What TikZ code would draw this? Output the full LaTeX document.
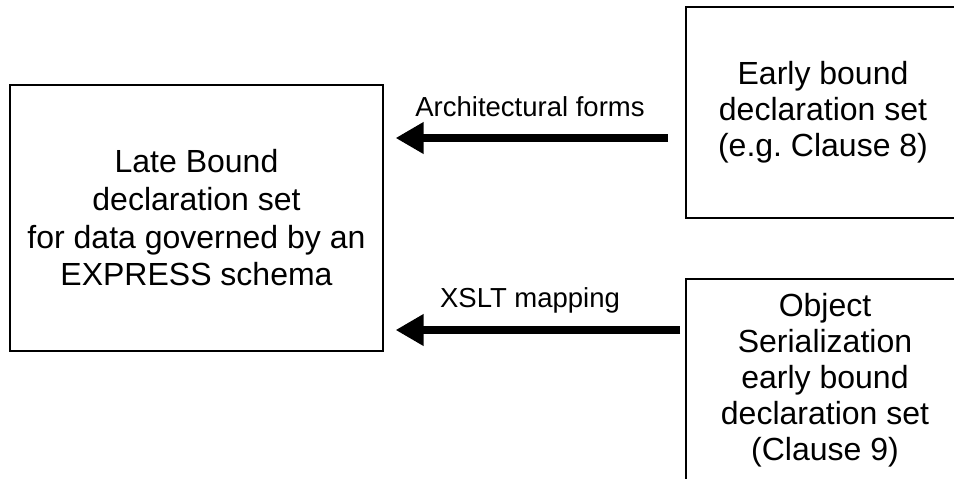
\documentclass[tikz,border=0pt]{standalone}
\usepackage{fontspec}
\setmainfont{Liberation Sans}
\usetikzlibrary{arrows.meta}
\frenchspacing
\begin{document}
\begin{tikzpicture}[x=1pt,y=-1pt,
  box/.style={draw=black, line width=1.2pt, inner sep=0pt, align=center},
  lbl/.style={font=\fontsize{27.5}{33}\selectfont, anchor=base, inner sep=0pt},
  bigarrow/.style={line width=7.5pt, -{Triangle[length=28pt,width=30pt]}}]
\useasboundingbox (0,0) rectangle (954,479);
\clip (0,0) rectangle (954,479);

% declaration set boxes
\node[box, minimum width=373pt, minimum height=266pt,
      font=\fontsize{32}{37.7}\selectfont] (late) at (196.5,218)
  {Late Bound\\declaration set\\for data governed by an\\EXPRESS schema};
\node[box, minimum width=274pt, minimum height=211pt,
      font=\fontsize{32}{36}\selectfont] (early) at (823,112.5)
  {Early bound\\declaration set\\(e.g. Clause 8)};
\node[box, minimum width=278pt, minimum height=202pt,
      font=\fontsize{32}{36}\selectfont] (objser) at (825,380)
  {Object\\Serialization\\early bound\\declaration set\\(Clause 9)};

% mapping arrows
\coordinate (a1) at (668,138);
\coordinate (a2) at (680,330);
\draw[bigarrow, shorten >=12pt] (a1) -- (late.east |- a1);
\draw[bigarrow, shorten >=12pt] (a2) -- (late.east |- a2);

% arrow labels
\node[lbl] (lab1) at (530,116) {Architectural forms};
\node[lbl] (lab2) at (530,307) {XSLT mapping};
\end{tikzpicture}
\end{document}
